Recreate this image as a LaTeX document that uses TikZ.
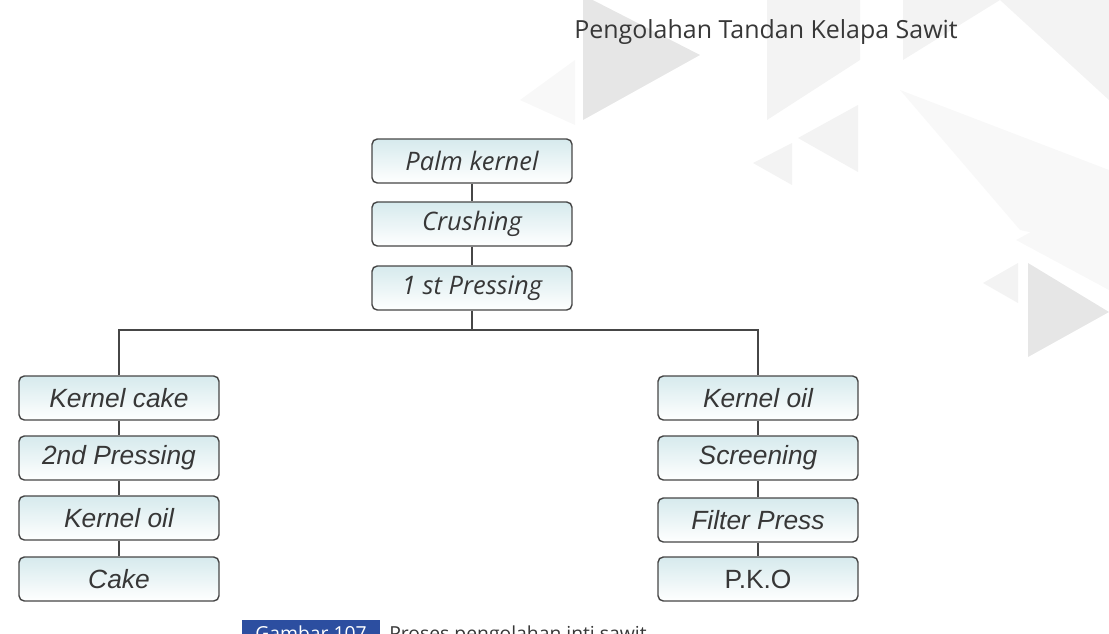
\documentclass[tikz,border=0pt]{standalone}
\usepackage{fontspec}
\setmainfont{Open Sans}
\newfontfamily\arialfont{Liberation Sans}
\definecolor{boxtop}{RGB}{214,234,237}
\definecolor{boxline}{RGB}{70,70,70}
\definecolor{inkgray}{RGB}{55,55,55}
\definecolor{capblue}{RGB}{44,78,160}
\definecolor{bgtri}{RGB}{243,243,243}
\definecolor{bgtrilight}{RGB}{248,248,248}
\definecolor{bgtridark}{RGB}{230,230,230}

\begin{document}
\begin{tikzpicture}[x=0.02cm, y=-0.02cm,
  box/.style={draw=boxline, line width=0.8pt, rounded corners=3pt, minimum width=4cm, minimum height=0.88cm,
    top color=boxtop, bottom color=white, text=inkgray, inner sep=0pt},
  boxa/.style={box, font=\fontsize{14.5}{16}\selectfont\itshape},
  boxb/.style={box, font=\fontsize{15}{17}\selectfont\arialfont\itshape},
  link/.style={draw=boxline, line width=0.8pt},
  tri/.style={fill=bgtri, draw=none}
]
\clip (0,0) rectangle (1109,633);

% background triangles
\fill[tri, fill=bgtridark] (583,-5) -- (583,120) -- (700,55) -- cycle;
\fill[tri, fill=bgtrilight] (520,100) -- (575,60) -- (575,125) -- cycle;
\fill[tri] (767,0) -- (860,0) -- (860,60) -- (767,120) -- cycle;
\fill[tri] (903,0) -- (903,60) -- (1000,0) -- cycle;
\fill[tri] (1000,0) -- (1109,0) -- (1109,100) -- cycle;
\fill[tri, fill=bgtrilight] (900,90) -- (1109,170) -- (1109,250) -- (1020,230) -- cycle;
\fill[tri] (753,163) -- (792,143) -- (792,185) -- cycle;
\fill[tri] (798,138) -- (858,105) -- (858,172) -- cycle;
\fill[tri, fill=bgtrilight] (1016,240) -- (1109,190) -- (1109,290) -- cycle;
\fill[tri] (983,283) -- (1018,263) -- (1018,303) -- cycle;
\fill[tri, fill=bgtridark] (1028,263) -- (1028,357) -- (1109,312) -- cycle;

% title
\node[anchor=base west, text=inkgray, font=\fontsize{14.2}{16}\selectfont, inner sep=0pt] (title) at (574,38) {Pengolahan Tandan Kelapa Sawit};

% main column
\node[boxa] (kernel) at (472,161) {Palm kernel};
\node[boxa] (crush) at (472,224) {Crushing};
\node[boxa] (press) at (472,288) {1 st Pressing};
\coordinate (split) at (472,330);

% left branch
\node[boxb] (lcake) at (119,398) {Kernel cake};
\node[boxb] (lpress) at (119,458) {2nd Pressing};
\node[boxb] (loil) at (119,518) {Kernel oil};
\node[boxb] (lend) at (119,579) {Cake};

% right branch
\node[boxb] (roil) at (758,398) {Kernel oil};
\node[boxb] (rscreen) at (758,458) {Screening};
\node[boxb] (rfilter) at (758,520) {Filter Press};
\node[boxb, font=\fontsize{15}{17}\selectfont\arialfont] (rpko) at (758,579) {P.K.O};

\draw[link] (kernel) -- (crush);
\draw[link] (crush) -- (press);
\draw[link] (press) -- (split);
\draw[link] (lcake.north) |- (split) -| (roil.north);
\draw[link] (lcake) -- (lpress);
\draw[link] (lpress) -- (loil);
\draw[link] (loil) -- (lend);
\draw[link] (roil) -- (rscreen);
\draw[link] (rscreen) -- (rfilter);
\draw[link] (rfilter) -- (rpko);

% caption (cut at page edge, as in the page it comes from)
\node[fill=capblue, anchor=north west, minimum width=2.76cm, minimum height=0.6cm, inner sep=0pt] (capno) at (242,620) {};
\node[anchor=base, text=white, font=\fontsize{11}{13}\selectfont, inner sep=0pt] (capnum) at (311,640) {Gambar 107};
\node[anchor=base west, text=inkgray, font=\fontsize{11}{13}\selectfont, inner sep=0pt] (captext) at (389,640) {Proses pengolahan inti sawit};
\end{tikzpicture}
\end{document}
